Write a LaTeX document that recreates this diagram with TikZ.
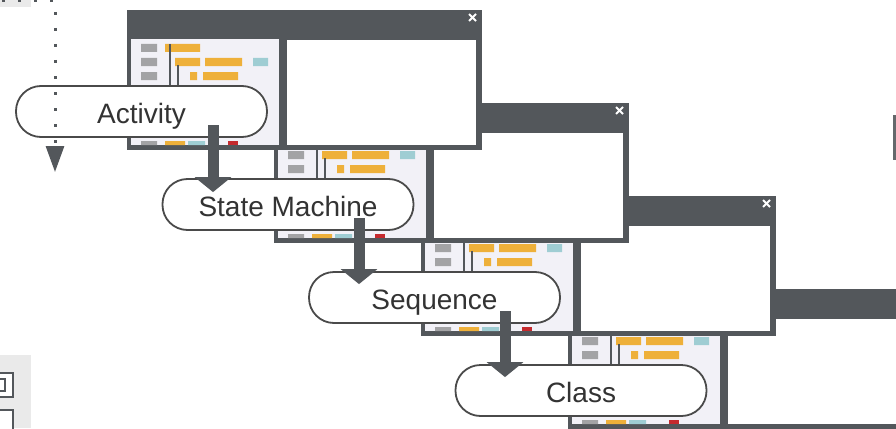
\documentclass[tikz,border=0pt]{standalone}
\usepackage{fontspec}
\setmainfont{Liberation Sans}
\usetikzlibrary{arrows.meta, positioning}
\definecolor{WinFrame}{HTML}{53575B}
\definecolor{PanelTint}{HTML}{F2F1F7}
\definecolor{BlockGray}{HTML}{A3A3A5}
\definecolor{BarOrange}{HTML}{EEB03A}
\definecolor{BarTeal}{HTML}{9FCDD3}
\definecolor{BarRed}{HTML}{C52A2E}
\definecolor{PillEdge}{HTML}{4A4A4A}
\definecolor{LabelGray}{HTML}{333333}
\definecolor{DockGray}{HTML}{EAEAEA}

\begin{document}
\begin{tikzpicture}[x=1pt, y=-1pt,
      pill/.style={rectangle, rounded corners=25pt, draw=PillEdge, line width=1.8pt,
                   fill=white, minimum width=251pt, minimum height=51pt, inner sep=0pt,
                   text=LabelGray, font=\fontsize{28}{30}\selectfont,
                   text height=23pt, text depth=0pt},
      flow/.style={-{Triangle[width=36pt,length=15pt]}, WinFrame, line width=11pt},
      dotflow/.style={-{Triangle[width=18pt,length=26pt]}, WinFrame, line width=3pt,
                      dash pattern=on 3pt off 13pt}]
      \useasboundingbox (0,0) rectangle (896,428);
      \clip (0,0) rectangle (896,428);
      % Windows, back to front
      \foreach \k in {3,2,1,0} {
         \begin{scope}[shift={(127+147*\k,10+93*\k)}]
            \fill[WinFrame] (0,0) rectangle (355,140);
            \fill[PanelTint] (4,29) rectangle (152,135);
            \fill[white] (160,30) rectangle (349,135);
            \draw[white, line width=1.8pt] (342,4) -- (349,11) (349,4) -- (342,11);
            \fill[BlockGray] (14,34) rectangle (30,42) (14,48) rectangle (30,56)
                             (14,62) rectangle (30,70) (14,131) rectangle (30,135);
            \fill[BarOrange] (38,34) rectangle (73,42) (48,48) rectangle (73,56)
                             (78,48) rectangle (115,56) (63,62) rectangle (70,70)
                             (76,62) rectangle (111,70) (38,131) rectangle (58,135);
            \fill[BarTeal] (126,48) rectangle (141,56) (61,131) rectangle (78,135);
            \fill[BarRed] (101,131) rectangle (111,135);
            \draw[WinFrame, line width=1.2pt] (43,34) -- (43,82);
            \draw[WinFrame, line width=1.8pt] (51,55) -- (51,80);
         \end{scope}
      }
      % Diagram kinds
      \node[pill] (act) at (141.5,111.5) {Activity};
      \node[pill] (stm) at (288,204.5) {State Machine};
      \node[pill] (seq) at (434.5,297.5) {Sequence};
      \node[pill] (cls) at (581,390.5) {Class};
      % Arrows
      \draw[flow] ([xshift=71.5pt,yshift=-13.5pt]act.center) -- ([xshift=-75pt,yshift=-14pt]stm.north);
      \draw[flow] ([xshift=71pt,yshift=-13.5pt]stm.center) -- ([xshift=-75.5pt,yshift=-13pt]seq.north);
      \draw[flow] ([xshift=70.5pt,yshift=-13.5pt]seq.center) -- ([xshift=-76pt,yshift=-13pt]cls.north);
      % Dotted return
      \fill[DockGray] (0,0) rectangle (31,7);
      \coordinate (dstart) at (-14,1);
      \coordinate (dbend) at (55,1);
      \coordinate (dend) at (55,172);
      \draw[dotflow] (dstart) -- (dbend) -- (dend);
      % Edge bits
      \fill[DockGray] (0,355) rectangle (31,428);
      \draw[WinFrame, line width=2pt, fill=white] (-5,373) rectangle (13,397);
      \draw[WinFrame, line width=1.5pt, fill=white] (-5,379) rectangle (5,391);
      \draw[WinFrame, line width=2pt, fill=white] (-5,410) rectangle (13,440);
      \fill[WinFrame!90] (893,115) rectangle (896,160);
   \end{tikzpicture}
\end{document}
